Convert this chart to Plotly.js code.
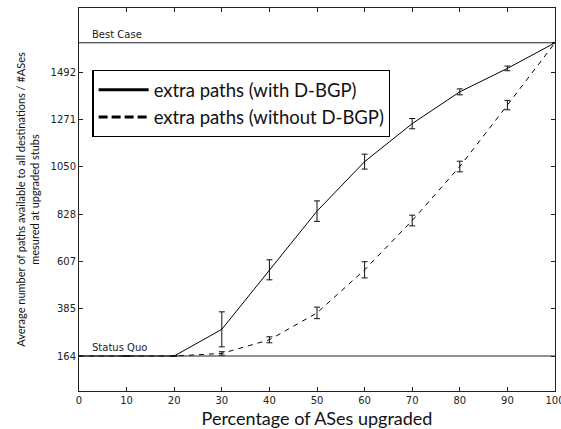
<!DOCTYPE html>
<html>
<head>
<meta charset="utf-8">
<script src="https://cdn.plot.ly/plotly-3.0.1.min.js"></script>
<style>html,body{margin:0;padding:0;background:#fff;overflow:hidden}#chart{width:561px;height:429px}</style>
</head>
<body>
<div id="chart"></div>
<script>
// Data
const percentUpgraded = [0, 10, 20, 30, 40, 50, 60, 70, 80, 90, 100];
const withDBGP      = [164, 164, 164, 289, 568, 843, 1075, 1253, 1402, 1512, 1632];
const withDBGPErr   = [0, 0, 0, 82, 47, 48, 35, 24, 14, 11, 0];
const withoutDBGP    = [164, 164, 164, 176, 240, 366, 568, 799, 1052, 1340, 1632];
const withoutDBGPErr = [0, 0, 0, 8, 14, 27, 38, 25, 25, 22, 0];
const BEST_CASE = 1632;
const STATUS_QUO = 164;
const yTicks = [164, 385, 607, 828, 1050, 1271, 1492];
const xTicks = [0, 10, 20, 30, 40, 50, 60, 70, 80, 90, 100];
const seriesNames = ['extra paths (with D-BGP)', 'extra paths (without D-BGP)'];

const tickFont = {family: 'DejaVu Sans', size: 10, color: '#222'};
const traces = [
  {x: percentUpgraded, y: withDBGP, type: 'scatter', mode: 'lines', showlegend: false,
   line: {color: '#000', width: 1},
   error_y: {type: 'data', array: withDBGPErr, visible: true, color: '#111', thickness: 1, width: 3}},
  {x: percentUpgraded, y: withoutDBGP, type: 'scatter', mode: 'lines', showlegend: false,
   line: {color: '#000', width: 1, dash: '5px,5px'},
   error_y: {type: 'data', array: withoutDBGPErr, visible: true, color: '#111', thickness: 1, width: 3}},
  {x: [null], y: [null], type: 'scatter', mode: 'lines', name: seriesNames[0],
   line: {color: '#000', width: 3}},
  {x: [null], y: [null], type: 'scatter', mode: 'lines', name: seriesNames[1],
   line: {color: '#000', width: 3, dash: '9px,4px'}}
];

const layout = {
  width: 561, height: 429,
  margin: {l: 78.5, r: 6, t: 8, b: 38, pad: 0},
  paper_bgcolor: '#fff', plot_bgcolor: '#fff',
  showlegend: true,
  legend: {x: 0.028, y: 0.838, xanchor: 'left', yanchor: 'top',
    bgcolor: '#fff', bordercolor: '#000', borderwidth: 1.3,
    font: {family: 'Lato', size: 18.5, color: '#111'}, itemwidth: 50, tracegroupgap: 0},
  xaxis: {range: [0, 100], tickvals: xTicks, ticktext: xTicks.map(String),
    ticks: 'inside', ticklen: 4, tickcolor: '#222', tickfont: tickFont, ticklabeloverflow: 'allow',
    showline: true, linecolor: '#222', linewidth: 1, mirror: 'ticks',
    showgrid: false, zeroline: false,
    title: {text: 'Percentage of ASes upgraded', font: {family: 'Lato', size: 18, color: '#111'}, standoff: 8}},
  yaxis: {range: [0, 1795], tickvals: yTicks, ticktext: yTicks.map(String),
    ticks: 'inside', ticklen: 4, tickcolor: '#222', tickfont: tickFont,
    showline: true, linecolor: '#222', linewidth: 1, mirror: 'ticks',
    showgrid: false, zeroline: false,
    title: {text: 'Average number of paths available to all destinations / #ASes<br>mesured at upgraded stubs',
      font: {family: 'Lato', size: 11, color: '#111'}, standoff: 8}},
  shapes: [
    {type: 'line', xref: 'paper', x0: 0, x1: 1, yref: 'y', y0: BEST_CASE, y1: BEST_CASE, line: {color: '#222', width: 1}},
    {type: 'line', xref: 'paper', x0: 0, x1: 1, yref: 'y', y0: STATUS_QUO, y1: STATUS_QUO, line: {color: '#222', width: 1}}
  ],
  annotations: [
    {xref: 'paper', x: 0.024, yref: 'y', y: BEST_CASE, text: 'Best Case', showarrow: false,
     xanchor: 'left', yanchor: 'bottom', yshift: 1, font: {family: 'DejaVu Sans', size: 10, color: '#222'}},
    {xref: 'paper', x: 0.024, yref: 'y', y: STATUS_QUO, text: 'Status Quo', showarrow: false,
     xanchor: 'left', yanchor: 'bottom', yshift: 1, font: {family: 'DejaVu Sans', size: 10, color: '#222'}}
  ]
};

Plotly.newPlot('chart', traces, layout, {displayModeBar: false, staticPlot: true});
</script>
</body>
</html>
